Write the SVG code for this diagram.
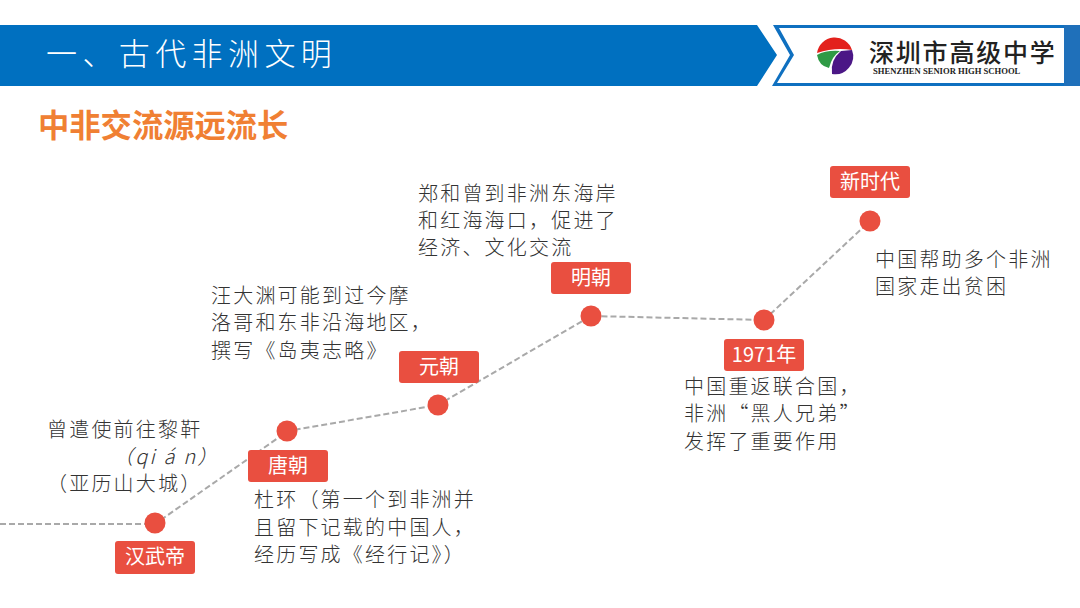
<svg xmlns="http://www.w3.org/2000/svg" width="1080" height="608" viewBox="0 0 1080 608">
<style>
text{font-family:"Noto Sans CJK SC","Noto Sans",sans-serif}
.b{font-size:20px;letter-spacing:2.2px;fill:#333;font-weight:300}
.l{font-size:20px;fill:#fff;text-anchor:middle;font-weight:400}
.r{fill:#e94f40}
.d{fill:#e94f40}
.c{fill:none;stroke:#a9a9a9;stroke-width:2;stroke-dasharray:6 3}
</style>
<rect width="1080" height="608" fill="#fff"/>
<g id="header">
<rect x="0" y="25" width="1080" height="61" fill="#0070c0"/>
<polygon points="757,25 772,25 793,55 772,86 757,86 777,55" fill="#fff"/>
<polygon points="771,25 1080,25 1080,86 771,86 791,55" fill="#fff"/>
<polygon points="773,25 1064,25 1064,28 779,28 794,55 777,83 1064,83 1064,86 772,86 790,55" fill="#0f70c0"/>
<rect x="1064" y="25" width="16" height="61" fill="#1f70ba"/>
<polygon points="757,25 767,25 788,55 767,86 757,86 775,55" fill="#fff" opacity="0"/>
<text x="46" y="65" font-size="31" letter-spacing="5.4" fill="#fff" font-weight="300">一、古代非洲文明</text>
</g>
<g id="logo">
<path d="M817,53 A18,18 0 0 1 852,50 Q835,47 817,53Z" fill="#e3211c"/>
<path d="M817,55 Q826,50 840,51 Q832,56 829,68 Q819,66 817,55Z" fill="#2f9a45"/>
<path d="M841,51 L852,50 A18,18 0 0 1 832,74 Q830,60 841,51Z" fill="#4b1786"/>
<text x="869" y="62" font-size="25" letter-spacing="1.8" fill="#222" font-weight="500">深圳市高级中学</text>
<text x="873" y="74" font-size="8.6" font-weight="700" fill="#222" style="font-family:'Liberation Serif',serif">SHENZHEN SENIOR HIGH SCHOOL</text>
</g>
<text id="subtitle" x="38" y="137" font-size="31.3" font-weight="700" fill="#f08033">中非交流源远流长</text>
<g id="connectors">
<path class="c" d="M0,524 H155 L288,431 L438,405 L591,316 L764,320 L870,221"/>
</g>
<g id="n1"><circle class="d" cx="155" cy="523" r="10.5"/><rect class="r" x="115" y="541" width="80" height="33" rx="3"/><text class="l" x="155" y="564">汉武帝</text>
<text class="b" x="47" y="437">曾遣使前往黎靬</text>
<text class="b" x="113" y="464" font-style="italic">（qi á n）</text>
<text class="b" x="47" y="491">（亚历山大城）</text></g>
<g id="n2"><circle class="d" cx="287" cy="431" r="10.5"/><rect class="r" x="248" y="450" width="80" height="32" rx="3"/><text class="l" x="288" y="473">唐朝</text>
<text class="b" x="254" y="507">杜环（第一个到非洲并</text>
<text class="b" x="254" y="535">且留下记载的中国人，</text>
<text class="b" x="254" y="562">经历写成《经行记》）</text></g>
<g id="n3"><circle class="d" cx="438" cy="405" r="10.5"/><rect class="r" x="399" y="351" width="80" height="32" rx="3"/><text class="l" x="439" y="374">元朝</text>
<text class="b" x="211" y="303">汪大渊可能到过今摩</text>
<text class="b" x="211" y="330">洛哥和东非沿海地区，</text>
<text class="b" x="211" y="358">撰写《岛夷志略》</text></g>
<g id="n4"><circle class="d" cx="591" cy="316" r="10.5"/><rect class="r" x="551" y="262" width="80" height="32" rx="3"/><text class="l" x="591" y="285">明朝</text>
<text class="b" x="418" y="201">郑和曾到非洲东海岸</text>
<text class="b" x="418" y="228">和红海海口，促进了</text>
<text class="b" x="418" y="255">经济、文化交流</text></g>
<g id="n5"><circle class="d" cx="764" cy="320" r="10.5"/><rect class="r" x="724" y="339" width="80" height="32" rx="3"/><text class="l" x="764" y="362">1971年</text>
<text class="b" x="684" y="394">中国重返联合国，</text>
<text class="b" x="684" y="421">非洲“黑人兄弟”</text>
<text class="b" x="684" y="449">发挥了重要作用</text></g>
<g id="n6"><circle class="d" cx="870" cy="221" r="10.5"/><rect class="r" x="830" y="166" width="80" height="32" rx="3"/><text class="l" x="870" y="189">新时代</text>
<text class="b" x="875" y="267">中国帮助多个非洲</text>
<text class="b" x="875" y="294">国家走出贫困</text></g>
</svg>
